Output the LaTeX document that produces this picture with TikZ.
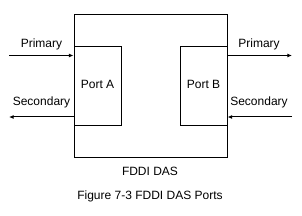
\documentclass[tikz,border=0pt]{standalone}
\usepackage{fontspec}
\setmainfont{Liberation Sans}
\usepackage{tikz}
\tikzset{>=latex}
\usetikzlibrary{arrows.meta}
\tikzset{>={Latex[length=3.5pt, width=3pt]}}
\tikzset{box/.style={draw, inner sep=0, minimum width=#1}}

\begin{document}
\begin{tikzpicture}[x=0.75pt, y=-0.75pt, line width=0.75pt, font=\fontsize{9}{10}\selectfont]
    \useasboundingbox (0, 0) rectangle (302, 216);
    \begin{scope}
        \node [box=114.75pt, minimum height=107.25pt] (das) at (150.5, 86.5) {};
        \node [box=35.25pt, minimum height=59.25pt] (porta) at (97.5, 86.5) {};
        \node [box=35.25pt, minimum height=59.25pt] (portb) at (203.5, 86.5) {};
        \node [anchor=base] (porta-name) at (97.5, 89) {Port A};
        \node [anchor=base] (portb-name) at (203.5, 89) {Port B};
        \node [anchor=base] (das-name) at (150, 176) {FDDI DAS};
        \node [anchor=base] (caption) at (150, 200) {Figure 7-3 FDDI DAS Ports};
    \end{scope}
    \begin{scope}
        \coordinate (pinl) at (9, 55.5);
        \coordinate (soutl) at (9, 117);
        \draw [->] (pinl) -- (pinl -| porta.west);
        \draw [->] (soutl -| porta.west) -- (soutl);
        \node [anchor=base] (pril) at (41.5, 48) {Primary};
        \node [anchor=base] (secl) at (41.5, 106) {Secondary};
    \end{scope}
    \begin{scope}
        \coordinate (poutr) at (292, 55.5);
        \coordinate (sinr) at (292, 117);
        \draw [->] (poutr -| portb.east) -- (poutr);
        \draw [->] (sinr) -- (sinr -| portb.east);
        \node [anchor=base] (prir) at (259, 48) {Primary};
        \node [anchor=base] (secr) at (259, 106) {Secondary};
    \end{scope}
\end{tikzpicture}
\end{document}
